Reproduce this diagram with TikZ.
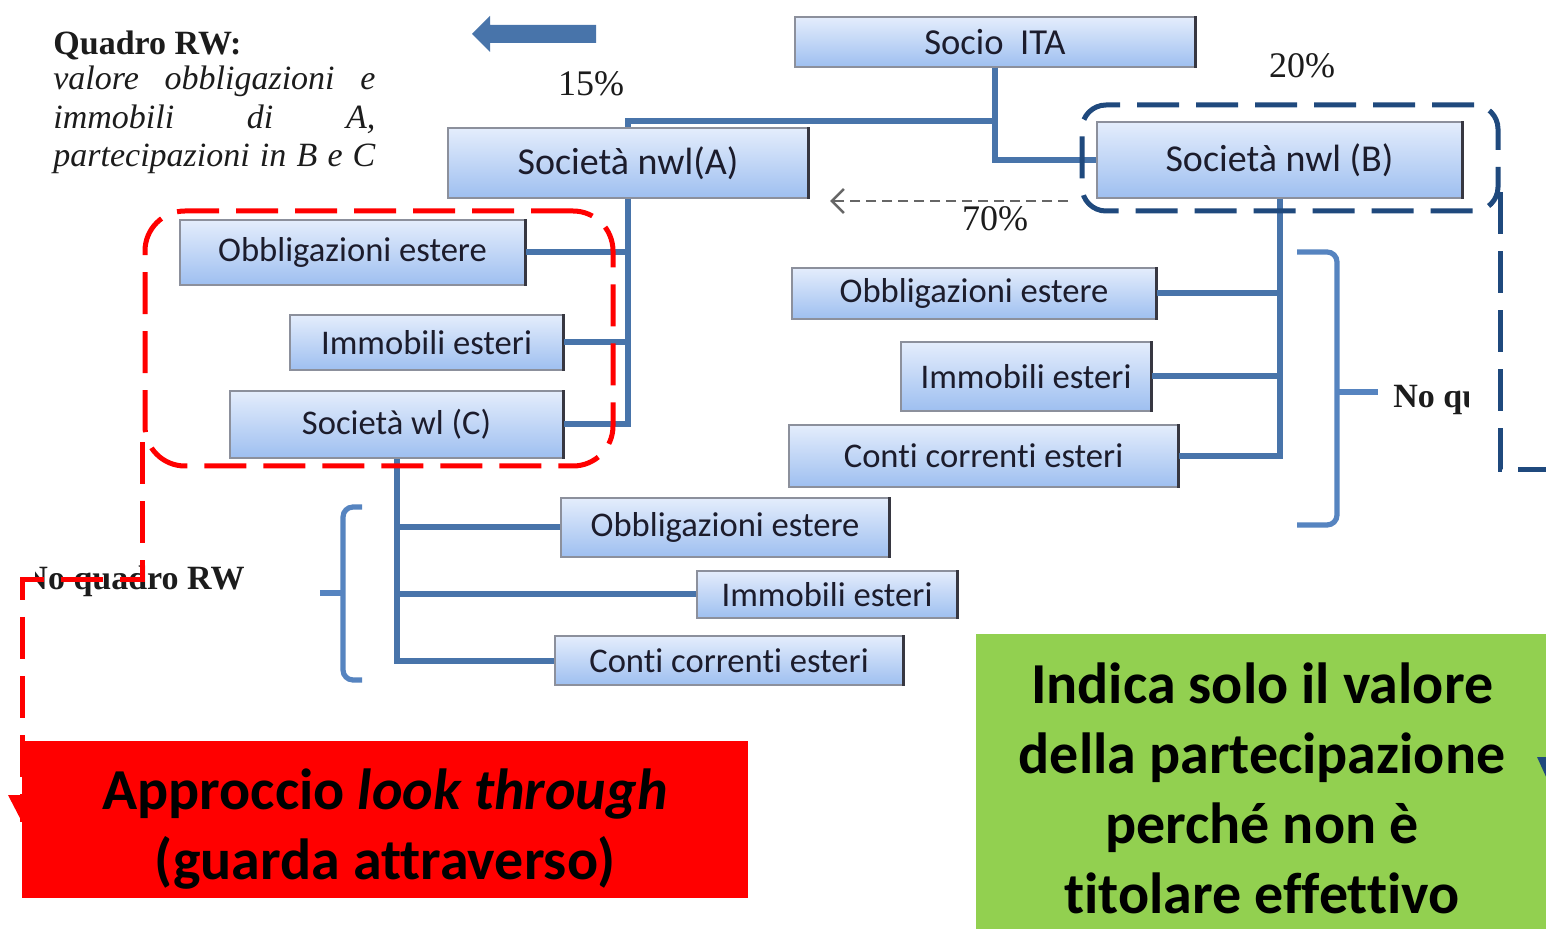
\documentclass[tikz,border=0pt]{standalone}
\usepackage{fontspec}
\setmainfont{Liberation Serif}
\newfontfamily\carl[Ligatures=NoCommon]{Carlito}
\usetikzlibrary{arrows.meta}

\definecolor{connblue}{RGB}{72,116,170}
\definecolor{braceblue}{RGB}{86,132,192}
\definecolor{navy}{RGB}{31,73,125}
\definecolor{boxtop}{RGB}{228,237,252}
\definecolor{boxbot}{RGB}{158,191,240}
\definecolor{boxline}{RGB}{140,144,156}
\definecolor{boxedge}{RGB}{55,55,65}
\definecolor{boxtext}{RGB}{28,28,44}
\definecolor{ink}{RGB}{28,28,28}
\definecolor{leafgreen}{RGB}{146,208,80}
\definecolor{alertred}{RGB}{255,0,0}

\tikzset{
  itembox/.style 2 args={draw=boxline, line width=0.6pt, top color=boxtop, bottom color=boxbot,
    minimum width=#1*0.5pt, minimum height=#2*0.5pt, inner sep=0pt, text=boxtext,
    font=\carl\fontsize{17.3}{20}\selectfont},
  bigtxt/.style={font=\carl\fontsize{19}{22}\selectfont},
  rightedge/.style={draw=boxedge, line width=1.3pt},
  conn/.style={draw=connblue, line width=3pt},
  bracket/.style={draw=braceblue, line width=2.6pt, rounded corners=5pt},
  txt/.style={inner sep=0pt, text=ink},
  pct/.style={txt, font=\fontsize{18}{20}\selectfont},
  reddash/.style={draw=alertred, line width=2.5pt, dash pattern=on 21pt off 8.5pt},
  navydash/.style={draw=navy, line width=2.5pt, dash pattern=on 21pt off 8.5pt},
  callout/.style={inner sep=0pt, text=black, align=center,
    font=\carl\bfseries\fontsize{29}{35}\selectfont},
}

\begin{document}
\begin{tikzpicture}[x=0.5pt,y=-0.5pt]
\useasboundingbox (0,0) rectangle (1546,929);
\fill[white] (0,0) rectangle (1546,929);

% heading text, top left
\node[txt, anchor=base west, font=\bfseries\fontsize{17}{20}\selectfont] (q1) at (53,55) {Quadro RW:};
\node[txt, anchor=base west, font=\itshape\fontsize{17}{20}\selectfont] (q2) at (53,90)
  {\makebox[161pt][s]{valore obbligazioni e}};
\node[txt, anchor=base west, font=\itshape\fontsize{17}{20}\selectfont] (q3) at (53,129)
  {\makebox[161pt][s]{immobili di A,}};
\node[txt, anchor=base west, font=\itshape\fontsize{17}{20}\selectfont] (q4) at (53,167)
  {\makebox[161pt][s]{partecipazioni in B e C}};

% block arrow pointing left
\fill[connblue] (472,34) -- (490,16) -- (490,25) -- (596,25) -- (596,43) -- (490,43) -- (490,52) -- cycle;

% percentages
\node[pct, anchor=base] (p15) at (591,96) {15\%};
\node[pct, anchor=base] (p20) at (1302,78) {20\%};
\node[pct, anchor=base] (p70) at (995,231) {70\%};

% free ends of the connectors
\coordinate (jA) at (995,121);
\coordinate (dA) at (830,201);
\coordinate (dB) at (1068,201);
\coordinate (rbend) at (22,580);
\coordinate (rtip) at (22,822);
\coordinate (nbend) at (1552,470);
\coordinate (ntip) at (1552,790);

% "No quadro RW" labels, partly hidden
\begin{scope}
  \clip (35,550) rectangle (260,612);
  \node[txt, anchor=base east, font=\bfseries\fontsize{17}{20}\selectfont] (noqL) at (245,589) {No quadro RW};
\end{scope}
\begin{scope}
  \clip (1380,370) rectangle (1468,432);
  \node[txt, anchor=base west, font=\bfseries\fontsize{17}{20}\selectfont] (noqR) at (1393,408) {No quadro RW};
\end{scope}

% boxes
\node[itembox={400}{50}, font=\carl\fontsize{18.3}{21}\selectfont] (soc) at (995,42) {Socio\ \ ITA};
\node[itembox={360}{70}, bigtxt] (A) at (628,163) {Società nwl(A)};
\node[itembox={365}{76}, bigtxt] (B) at (1279.5,160) {Società nwl (B)};
\node[itembox={345}{65}] (oA) at (352.5,252.5) {Obbligazioni estere};
\node[itembox={273}{55}] (iA) at (426.5,342.5) {Immobili esteri};
\node[itembox={333}{67}] (C) at (396.5,424.5) {Società wl (C)};
\node[itembox={364}{51}] (oB) at (974,293.5) {Obbligazioni estere};
\node[itembox={250}{69}] (iB) at (1026,376.5) {Immobili esteri};
\node[itembox={389}{62}] (cB) at (983.5,456) {Conti correnti esteri};
\node[itembox={328}{59}] (oC) at (725,527.5) {Obbligazioni estere};
\node[itembox={260}{47}] (iC) at (827,594.5) {Immobili esteri};
\node[itembox={348}{49}] (cC) at (729,660.5) {Conti correnti esteri};
\foreach \n in {soc,A,B,oA,iA,C,oB,iB,cB,oC,iC,cC}
  \draw[rightedge] (\n.north east) -- (\n.south east);

% connectors
\draw[conn] (soc.south) -- (jA) -| (A.north);
\draw[conn] (soc.south) |- (B.west);
\draw[conn] (A.south) |- (C.east);
\draw[conn] (oA.east) -- (oA.east -| A.south);
\draw[conn] (iA.east) -- (iA.east -| A.south);
\draw[conn] (B.south) |- (cB.east);
\draw[conn] (oB.east) -- (oB.east -| B.south);
\draw[conn] (iB.east) -- (iB.east -| B.south);
\draw[conn] (C.south) |- (cC.west);
\draw[conn] (oC.west) -- (oC.west -| C.south);
\draw[conn] (iC.west) -- (iC.west -| C.south);

% braces
\draw[bracket] (362,507) -- (343,507) -- (343,680) -- (362,680);
\draw[bracket] (343,593) -- (320,593);
\draw[bracket] (1297,252) -- (1337,252) -- (1337,525) -- (1297,525);
\draw[bracket] (1337,392) -- (1378,392);

% dashed arrow from B towards A
\draw[draw=black!60, line width=1.3pt, dash pattern=on 5pt off 3pt,
      -{Straight Barb[length=6pt,width=12pt]}] (dB) -- (dA);

% group outlines
\node[reddash, rounded corners=20pt, minimum width=234pt, minimum height=127.5pt, inner sep=0pt]
  (grpA) at (379,338.5) {};
\node[navydash, rounded corners=12pt, minimum width=208pt, minimum height=53pt, inner sep=0pt]
  (grpB) at (1290,158) {};

% red tail to the look-through callout
\draw[reddash] ([yshift=13pt]grpA.south west) |- (rbend) -- (rtip);
\fill[alertred] (8,795) -- (36,795) -- (rtip) -- cycle;

% callouts
\node[fill=alertred, minimum width=363pt, minimum height=78.5pt, inner sep=0pt] (lookbox) at (385,819.5) {};
\node[callout] (looktxt) at (385,829) {Approccio \textit{look through}\\(guarda attraverso)};

\node[fill=leafgreen, minimum width=286pt, minimum height=155pt, inner sep=0pt] (greenbox) at (1262,789) {};
\node[callout] (greentxt) at (1262,788) {Indica solo il valore\\della partecipazione\\perché non è\\titolare effettivo};

% navy tail to the right
\draw[navydash] ([yshift=10.5pt]grpB.south east) |- (nbend) -- (1552,757);
\fill[navy] (1537,757) -- (1567,757) -- (ntip) -- cycle;
\end{tikzpicture}
\end{document}
